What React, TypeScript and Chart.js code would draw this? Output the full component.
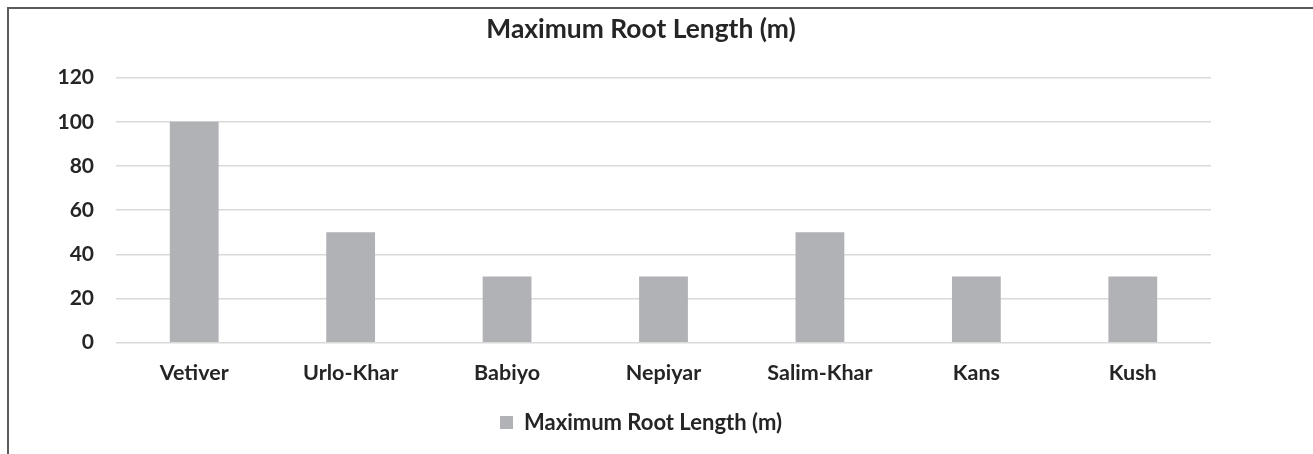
import React, { useEffect, useRef } from "react";
import { Chart, registerables } from "chart.js";

Chart.register(...registerables);

const categories = ["Vetiver", "Urlo-Khar", "Babiyo", "Nepiyar", "Salim-Khar", "Kans", "Kush"];
const rootLength = [100, 50, 30, 30, 50, 30, 30];
const seriesLabel = "Maximum Root Length (m)";
const titleText = "Maximum Root Length (m)";

const FONT = "Lato, 'Open Sans', sans-serif";
const TEXT = "#252525";

export default function App() {
  const ref = useRef<HTMLCanvasElement | null>(null);

  useEffect(() => {
    document.body.style.overflow = "hidden";
    const canvas = ref.current;
    if (!canvas) return;
    const chart = new Chart(canvas, {
      type: "bar",
      data: {
        labels: categories,
        datasets: [
          {
            label: seriesLabel,
            data: rootLength,
            backgroundColor: "#b1b2b6",
            borderWidth: 0,
            categoryPercentage: 1,
            barPercentage: 0.312,
          },
        ],
      },
      options: {
        animation: false,
        responsive: false,
        maintainAspectRatio: false,
        layout: { padding: { left: 0, right: 41, top: 0, bottom: 10.5 } },
        plugins: {
          title: {
            display: true,
            text: titleText,
            color: TEXT,
            font: { family: FONT, size: 26.4, weight: "bold" },
            padding: { top: 4, bottom: 32 },
          },
          legend: {
            display: true,
            position: "bottom",
            labels: {
              color: TEXT,
              font: { family: FONT, size: 22, weight: "bold" },
              boxWidth: 13,
              boxHeight: 13,
              padding: 10,
            },
          },
          tooltip: { enabled: false },
        },
        scales: {
          x: {
            grid: { display: false, drawTicks: false },
            border: { display: false },
            ticks: {
              color: TEXT,
              font: { family: FONT, size: 21.5, weight: "bold" },
              padding: 17.4,
              maxRotation: 0,
              autoSkip: false,
            },
            afterFit: (s: any) => {
              s.height = 58.8;
            },
          },
          y: {
            min: 0,
            max: 120,
            grid: { color: "#d9d9d9", lineWidth: 1.5, drawTicks: false },
            border: { display: false },
            ticks: {
              stepSize: 20,
              color: TEXT,
              font: { family: FONT, size: 21, weight: "bold" },
              padding: 22,
            },
            afterFit: (s: any) => {
              s.width = 106;
            },
          },
          ySpacer: {
            position: "right",
            display: true,
            grid: { display: false, drawTicks: false },
            border: { display: false },
            ticks: { display: false },
            afterFit: (s: any) => {
              s.width = 61;
            },
          },
        },
      },
    });
    return () => chart.destroy();
  }, []);

  return (
    <div>
      <div
        style={{
          position: "fixed",
          left: 7,
          top: 7,
          right: -10,
          bottom: -10,
          borderTop: "2.5px solid #5b5b5b",
          borderLeft: "2.5px solid #5b5b5b",
          boxSizing: "border-box",
        }}
      />
      <canvas
        ref={ref}
        width={1303}
        height={444}
        style={{ position: "fixed", left: 10, top: 10, width: 1303, height: 444 }}
      />
    </div>
  );
}
